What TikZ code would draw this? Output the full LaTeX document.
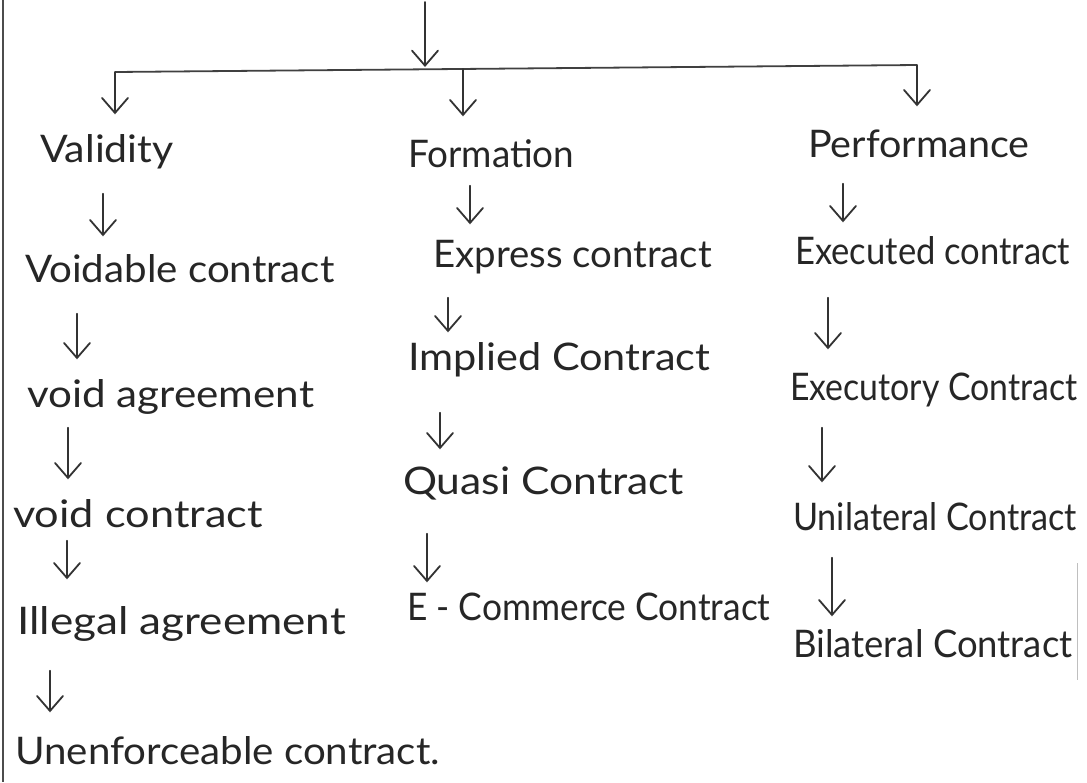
\documentclass[tikz,border=0pt]{standalone}
\usepackage{fontspec}
\usepackage{graphicx}
\setmainfont{Lato}
\usetikzlibrary{arrows.meta}
\newcommand{\hw}[2]{\scalebox{#1}[1]{#2}}
\tikzset{
  lbl/.style={anchor=west, inner sep=0pt, text height=22pt, text depth=7pt,
    font=\fontsize{38}{44}\selectfont, text=black!85},
  arr/.style={line width=1.8pt, draw=black!80, line cap=round,
    -{Straight Barb[length=15pt,width=26pt,line cap=round]}},
  bar/.style={line width=1.8pt, draw=black!75}
}
\begin{document}
\begin{tikzpicture}[x=1pt,y=-1pt]
\useasboundingbox (0,0) rectangle (1087,782);
\fill[white] (0,0) rectangle (1087,782);
% page edge lines
\draw[line width=1.4pt, black!70] (3,0) -- (3,782);
\draw[line width=0.6pt, black!25] (1077,563) -- (1077,680);

% left column
\node[lbl] (val) at (40,155) {\hw{1.08}{Validity}};
\node[lbl] (vdc) at (25,275) {\hw{1.06}{Voidable contract}};
\node[lbl] (vag) at (27,400) {\hw{1.11}{void agreement}};
\node[lbl] (vct) at (13,520) {\hw{1.14}{void contract}};
\node[lbl] (ill) at (17,627) {\hw{1.16}{Illegal agreement}};
\node[lbl] (une) at (15,757) {\hw{1.06}{Unenforceable contract.}};

% middle column
\node[lbl] (frm) at (408,160) {\hw{0.97}{Formation}};
\node[lbl] (exp) at (433,260) {\hw{1.01}{Express contract}};
\node[lbl] (imp) at (408,363) {\hw{1.09}{Implied Contract}};
\node[lbl] (qua) at (403,487) {\hw{1.12}{Quasi Contract}};
\node[lbl] (eco) at (407,613) {\hw{0.93}{E - Commerce Contract}};

% right column
\node[lbl] (prf) at (808,150) {\hw{1.04}{Performance}};
\node[lbl] (exd) at (795,257) {\hw{0.91}{Executed contract}};
\node[lbl] (exy) at (790,393) {\hw{0.89}{Executory Contract}};
\node[lbl] (uni) at (793,523) {\hw{0.90}{Unilateral Contract}};
\node[lbl] (bil) at (793,650) {\hw{0.96}{Bilateral Contract}};

% top connector and bar
\coordinate (top) at (425,0);
\coordinate (join) at (425,70);
\coordinate (barL) at (115,72);
\coordinate (barM) at (463,69);
\coordinate (barR) at (917,65);
\draw[bar] (barL) -- (barR);
\draw[arr, shorten <=2pt, shorten >=3pt] (top) -- (join);
\draw[arr, shorten >=26pt] (barL) -- (barL |- val.north);
\draw[arr, shorten >=29pt] (barM) -- (barM |- frm.north);
\draw[arr, shorten >=29pt] (barR) -- (barR |- prf.north);

% left column arrows
\draw[arr, shorten <=24pt, shorten >=24pt] ([xshift=63pt]val.south west) -- ([xshift=63pt]val.south west |- vdc.north);
\draw[arr, shorten <=24pt, shorten >=26pt] ([xshift=52pt]vdc.south west) -- ([xshift=52pt]vdc.south west |- vag.north);
\draw[arr, shorten <=13pt, shorten >=26pt] ([xshift=41pt]vag.south west) -- ([xshift=41pt]vag.south west |- vct.north);
\draw[arr, shorten <=6pt, shorten >=33pt] ([xshift=54pt]vct.south west) -- ([xshift=54pt]vct.south west |- ill.north);
\draw[arr, shorten <=29pt, shorten >=30pt] ([xshift=33pt]ill.south west) -- ([xshift=33pt]ill.south west |- une.north);

% middle column arrows
\draw[arr, shorten <=11pt, shorten >=21pt] ([xshift=62pt]frm.south west) -- ([xshift=62pt]frm.south west |- exp.north);
\draw[arr, shorten <=23pt, shorten >=16pt] ([xshift=15pt]exp.south west) -- ([xshift=15pt]exp.south west |- imp.north);
\draw[arr, shorten <=35pt, shorten >=23pt] ([xshift=32pt]imp.south west) -- ([xshift=32pt]imp.south west |- qua.north);
\draw[arr, shorten <=32pt, shorten >=16pt] ([xshift=24pt]qua.south west) -- ([xshift=24pt]qua.south west |- eco.north);

% right column arrows
\draw[arr, shorten <=19pt, shorten >=20pt] ([xshift=35pt]prf.south west) -- ([xshift=35pt]prf.south west |- exd.north);
\draw[arr, shorten <=26pt, shorten >=29pt] ([xshift=33pt]exd.south west) -- ([xshift=33pt]exd.south west |- exy.north);
\draw[arr, shorten <=20pt, shorten >=26pt] ([xshift=32pt]exy.south west) -- ([xshift=32pt]exy.south west |- uni.north);
\draw[arr, shorten <=20pt, shorten >=19pt] ([xshift=39pt]uni.south west) -- ([xshift=39pt]uni.south west |- bil.north);
\end{tikzpicture}
\end{document}
